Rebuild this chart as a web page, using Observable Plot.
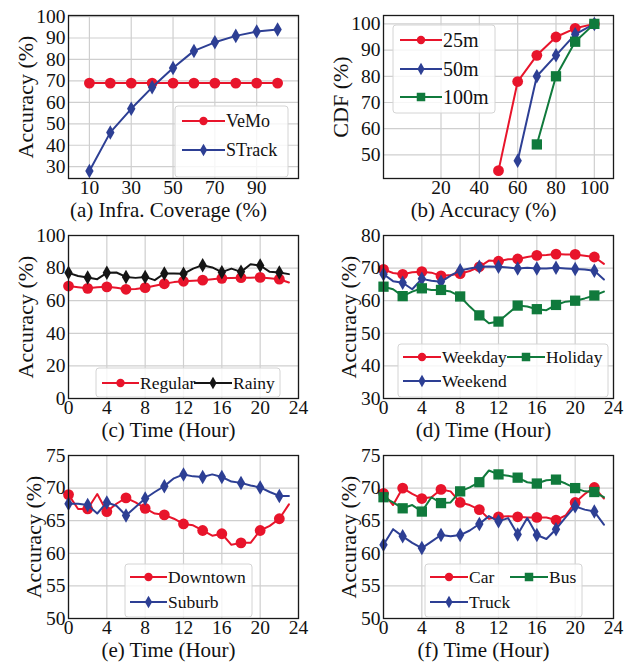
<!DOCTYPE html>
<html>
<head>
<meta charset="utf-8">
<script src="https://cdn.jsdelivr.net/npm/d3@7"></script>
<script src="https://cdn.jsdelivr.net/npm/@observablehq/plot@0.6"></script>
<style>
  html, body { margin: 0; padding: 0; background: #fff; }
  #fig { position: relative; width: 630px; height: 663px; font-family: "Liberation Serif", "Times New Roman", serif; }
  #fig svg { position: absolute; }
</style>
</head>
<body>
<div id="fig"></div>
<script>
// ---------- colours ----------
const RED = "#e8142b", BLUE = "#2d3f94", GREEN = "#107a3c", BLACK = "#151515";

// ---------- (a) infra coverage ----------
const coverage = [10, 20, 30, 40, 50, 60, 70, 80, 90, 100];
const vemo     = [69, 69, 69, 69, 69, 69, 69, 69, 69, 69];
const strack   = [28, 46, 57, 67, 76, 84, 88, 91, 93, 94];

// ---------- (b) CDF ----------
const acc25  = [50, 60, 70, 80, 90, 100];
const cdf25  = [44, 78, 88, 95, 98.3, 100];
const acc50  = [60, 70, 80, 90, 100];
const cdf50  = [47.8, 80, 88, 96, 100];
const acc100 = [70, 80, 90, 100];
const cdf100 = [54, 80, 93.2, 100];

// ---------- hours ----------
const hours = d3.range(24);
// (c)
const regular = [69.0, 68.3, 67.6, 68.3, 68.5, 67.9, 67.0, 67.2, 68.0, 69.2, 70.4, 71.4, 71.9, 72.2, 72.6, 73.1, 73.7, 74.0, 74.1, 74.1, 74.3, 73.8, 73.2, 71.2];
const rainy   = [77.1, 75.2, 74.2, 73.2, 77.1, 77.3, 74.6, 74.0, 74.6, 72.6, 76.7, 76.7, 76.5, 79.7, 81.8, 80.4, 77.5, 79.7, 77.7, 82.4, 81.6, 77.7, 77.3, 76.3];
// (d)
const weekday = [69.6, 68.5, 68.1, 68.7, 68.9, 68.6, 67.6, 67.9, 68.3, 69.1, 70.4, 72.3, 72.1, 72.7, 72.8, 73.4, 73.9, 74.0, 74.3, 74.2, 74.2, 73.8, 73.4, 71.3];
const weekend = [68.1, 66.0, 65.5, 63.5, 66.7, 66.1, 65.8, 67.7, 69.3, 69.9, 70.4, 70.5, 70.4, 70.2, 69.9, 70.1, 69.9, 69.9, 70.1, 69.9, 69.7, 69.6, 69.2, 66.5];
const holiday = [64.3, 63.5, 61.4, 62.8, 63.8, 63.3, 63.3, 62.8, 61.3, 58.2, 55.5, 53.1, 53.6, 56.1, 58.5, 58.2, 57.4, 57.1, 58.7, 59.7, 60.0, 60.7, 61.6, 62.8];
// (e)
const downtown = [69.0, 66.8, 66.8, 69.1, 66.4, 67.6, 68.5, 67.8, 66.9, 66.1, 65.9, 65.3, 64.5, 64.3, 63.5, 62.7, 63.0, 61.3, 61.6, 61.6, 63.5, 64.2, 65.3, 67.5];
const suburb   = [67.6, 67.6, 67.4, 66.1, 67.8, 67.3, 65.8, 67.1, 68.4, 69.4, 70.3, 71.5, 72.1, 71.8, 71.7, 72.1, 71.7, 71.0, 70.8, 70.4, 70.1, 69.4, 68.8, 68.8];
// (f)
const car   = [69.2, 67.4, 70.0, 69.1, 68.4, 68.6, 69.8, 69.5, 67.8, 67.4, 66.7, 65.3, 65.6, 65.7, 65.6, 65.5, 65.5, 65.5, 65.1, 65.8, 67.8, 69.1, 70.1, 68.4];
const truck = [61.3, 63.7, 62.6, 61.6, 60.8, 61.8, 62.8, 62.6, 62.8, 63.5, 64.5, 65.7, 64.9, 65.4, 62.9, 65.4, 62.8, 62.2, 63.7, 65.5, 67.2, 66.7, 66.4, 64.4];
const bus   = [68.6, 67.8, 66.9, 67.4, 66.4, 68.6, 67.7, 67.8, 69.5, 70.1, 70.9, 72.7, 72.1, 71.9, 71.6, 70.9, 70.7, 71.2, 71.3, 70.7, 70.0, 69.5, 69.4, 68.6];

// ---------- tick values ----------
const ticksCoverage = [10, 30, 50, 70, 90];
const ticksAccA = [30, 40, 50, 60, 70, 80, 90, 100];
const ticksAccB = [20, 40, 60, 80, 100];
const ticksCdf = [50, 60, 70, 80, 90, 100];
const ticksHour = [0, 4, 8, 12, 16, 20, 24];
const ticksC = [0, 20, 40, 60, 80, 100];
const ticksD = [30, 40, 50, 60, 70, 80];
const ticksEF = [50, 55, 60, 65, 70, 75];

const SYM_R = {circle: 5.4, diamond: 4.4, square: 5.8};

const fig = document.getElementById("fig");

function series(name, xs, ys, color, symbol, everyOther) {
  const data = xs.map((x, i) => ({x, y: ys[i], i}));
  const markers = everyOther ? data.filter(d => d.i % 2 === 0 && d.x <= 22) : data;
  return {name, data, markers, color, symbol};
}

function panel(cfg) {
  const marks = [
    Plot.gridX({ticks: cfg.xTicks, stroke: "#cfcfcf", strokeOpacity: 1, strokeWidth: 1.2}),
    Plot.gridY({ticks: cfg.yTicks, stroke: "#cfcfcf", strokeOpacity: 1, strokeWidth: 1.2}),
  ];
  for (const s of cfg.series) {
    marks.push(Plot.line(s.data, {x: "x", y: "y", stroke: s.color, strokeWidth: 2}));
    marks.push(Plot.dot(s.markers, {x: "x", y: "y", fill: s.color, symbol: s.symbol, r: SYM_R[s.symbol]}));
  }
  marks.push(
    Plot.frame({stroke: "#1a1a1a", strokeWidth: 1.3}),
    Plot.axisX({ticks: cfg.xTicks, tickSize: 0, tickPadding: 1.5, fontSize: 19.5, label: null}),
    Plot.axisY({ticks: cfg.yTicks, tickSize: 0, tickPadding: 3, fontSize: 19.5, label: null}),
    Plot.text([cfg.caption], {text: d => d, frameAnchor: "bottom", dx: -15, dy: 38.5, lineAnchor: "bottom", textAnchor: "middle", fontSize: 21, fill: "#111"}),
    Plot.text([cfg.ylabel], {text: d => d, frameAnchor: "left", rotate: -90, dx: cfg.ylabelDx, textAnchor: "middle", lineAnchor: "middle", fontSize: 22, fill: "#111"})
  );
  const svg = Plot.plot({
    width: 315, height: 220,
    marginLeft: 68, marginRight: 17, marginTop: 15, marginBottom: 42,
    x: {domain: cfg.xDomain},
    y: {domain: cfg.yDomain},
    style: {fontFamily: '"Liberation Serif", "Times New Roman", serif', fontSize: "20px", color: "#111", background: "none", overflow: "visible"},
    marks
  });
  svg.style.left = cfg.left + "px";
  svg.style.top = cfg.top + "px";
  fig.appendChild(svg);
}

panel({
  left: 0, top: 0, xDomain: [0, 110], yDomain: [24.5, 100.5],
  xTicks: ticksCoverage, yTicks: ticksAccA,
  caption: "(a) Infra. Coverage (%)", ylabel: "Accuracy (%)", ylabelDx: -43,
  series: [
    series("VeMo", coverage, vemo, RED, "circle", false),
    series("STrack", coverage, strack, BLUE, "diamond", false)
  ]
});
panel({
  left: 315, top: 0, xDomain: [-10, 110], yDomain: [41, 103.2],
  xTicks: ticksAccB, yTicks: ticksCdf,
  caption: "(b) Accuracy (%)", ylabel: "CDF (%)", ylabelDx: -43,
  series: [
    series("25m", acc25, cdf25, RED, "circle", false),
    series("50m", acc50, cdf50, BLUE, "diamond", false),
    series("100m", acc100, cdf100, GREEN, "square", false)
  ]
});
panel({
  left: 0, top: 220, xDomain: [0, 24], yDomain: [0, 100],
  xTicks: ticksHour, yTicks: ticksC,
  caption: "(c) Time (Hour)", ylabel: "Accuracy (%)", ylabelDx: -43,
  series: [
    series("Regular", hours, regular, RED, "circle", true),
    series("Rainy", hours, rainy, BLACK, "diamond", true)
  ]
});
panel({
  left: 315, top: 220, xDomain: [0, 24], yDomain: [30, 80],
  xTicks: ticksHour, yTicks: ticksD,
  caption: "(d) Time (Hour)", ylabel: "Accuracy (%)", ylabelDx: -35,
  series: [
    series("Weekday", hours, weekday, RED, "circle", true),
    series("Weekend", hours, weekend, BLUE, "diamond", true),
    series("Holiday", hours, holiday, GREEN, "square", true)
  ]
});
panel({
  left: 0, top: 440, xDomain: [0, 24], yDomain: [50, 75],
  xTicks: ticksHour, yTicks: ticksEF,
  caption: "(e) Time (Hour)", ylabel: "Accuracy (%)", ylabelDx: -35,
  series: [
    series("Downtown", hours, downtown, RED, "circle", true),
    series("Suburb", hours, suburb, BLUE, "diamond", true)
  ]
});
panel({
  left: 315, top: 440, xDomain: [0, 24], yDomain: [50, 75],
  xTicks: ticksHour, yTicks: ticksEF,
  caption: "(f) Time (Hour)", ylabel: "Accuracy (%)", ylabelDx: -35,
  series: [
    series("Car", hours, car, RED, "circle", true),
    series("Truck", hours, truck, BLUE, "diamond", true),
    series("Bus", hours, bus, GREEN, "square", true)
  ]
});

// ---------- legends (layout overlay) ----------
const legends = [
  {box: [175, 106, 288, 177], font: 18, items: [
    {label: "VeMo", color: RED, sym: "circle", x: 182, y: 121, len: 43},
    {label: "STrack", color: BLUE, sym: "diamond", x: 182, y: 150, len: 43}]},
  {box: [393, 25, 495, 113], font: 20, items: [
    {label: "25m", color: RED, sym: "circle", x: 400, y: 40, len: 42},
    {label: "50m", color: BLUE, sym: "diamond", x: 400, y: 69, len: 42},
    {label: "100m", color: GREEN, sym: "square", x: 400, y: 97, len: 42}]},
  {box: [96, 368, 280, 397], font: 17.5, items: [
    {label: "Regular", color: RED, sym: "circle", x: 102, y: 383, len: 37},
    {label: "Rainy", color: BLACK, sym: "diamond", x: 194, y: 383, len: 38}]},
  {box: [398, 344, 608, 397], font: 17.5, items: [
    {label: "Weekday", color: RED, sym: "circle", x: 403, y: 357, len: 38},
    {label: "Holiday", color: GREEN, sym: "square", x: 507, y: 357, len: 38},
    {label: "Weekend", color: BLUE, sym: "diamond", x: 403, y: 381, len: 38}]},
  {box: [125, 564, 252, 617], font: 17.5, items: [
    {label: "Downtown", color: RED, sym: "circle", x: 130, y: 577, len: 37},
    {label: "Suburb", color: BLUE, sym: "diamond", x: 130, y: 602, len: 37}]},
  {box: [425, 564, 582, 617], font: 17.5, items: [
    {label: "Car", color: RED, sym: "circle", x: 430, y: 577, len: 38},
    {label: "Bus", color: GREEN, sym: "square", x: 510, y: 577, len: 38},
    {label: "Truck", color: BLUE, sym: "diamond", x: 430, y: 602, len: 38}]}
];
const symTypes = {circle: d3.symbolCircle, diamond: d3.symbolDiamond, square: d3.symbolSquare};
const legR = {circle: 4.2, diamond: 3.8, square: 4.8};
const overlay = d3.select(fig).append("svg")
  .attr("width", 630).attr("height", 663)
  .style("left", "0px").style("top", "0px")
  .style("pointer-events", "none");
for (const lg of legends) {
  const [x0, y0, x1, y1] = lg.box;
  overlay.append("rect")
    .attr("x", x0).attr("y", y0).attr("width", x1 - x0).attr("height", y1 - y0)
    .attr("rx", 3).attr("fill", "#fff").attr("fill-opacity", 0.8)
    .attr("stroke", "#d4d4d4").attr("stroke-width", 1);
  for (const it of lg.items) {
    overlay.append("line")
      .attr("x1", it.x).attr("x2", it.x + it.len).attr("y1", it.y).attr("y2", it.y)
      .attr("stroke", it.color).attr("stroke-width", 2);
    overlay.append("path")
      .attr("transform", `translate(${it.x + it.len / 2},${it.y})`)
      .attr("d", d3.symbol().type(symTypes[it.sym]).size(Math.PI * legR[it.sym] ** 2)())
      .attr("fill", it.color);
    overlay.append("text")
      .attr("x", it.x + it.len + 1).attr("y", it.y)
      .attr("dy", "0.33em")
      .attr("font-size", lg.font)
      .attr("font-family", '"Liberation Serif", "Times New Roman", serif')
      .attr("fill", "#111")
      .text(it.label);
  }
}
</script>
</body>
</html>
